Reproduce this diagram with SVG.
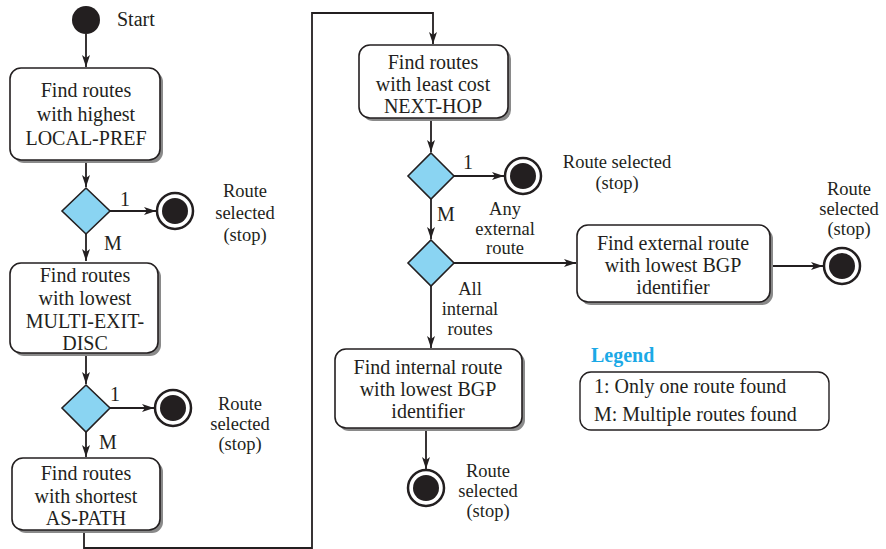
<svg xmlns="http://www.w3.org/2000/svg" width="886" height="549" viewBox="0 0 886 549">
<defs>
<style>
.t{font-family:"Liberation Serif","Times New Roman",serif;font-size:20px;fill:#231f20;text-anchor:middle}
.s{font-family:"Liberation Serif","Times New Roman",serif;font-size:18.5px;fill:#231f20;text-anchor:middle}
.tl{font-family:"Liberation Serif","Times New Roman",serif;font-size:20px;fill:#231f20}
.box{fill:#fff;stroke:#231f20;stroke-width:1.6}
.sh{fill:#8a8a8a}
.dia{fill:#8ad4f2;stroke:#231f20;stroke-width:1.6}
.ln{fill:none;stroke:#231f20;stroke-width:1.8}
.ring{fill:#fff;stroke:#231f20;stroke-width:2.5}
.dot{fill:#231f20}
.leg{font-family:"Liberation Serif","Times New Roman",serif;font-size:20px;font-weight:bold;fill:#1ba9e6}
</style>
<marker id="ah" viewBox="0 0 12 8" refX="12" refY="4" markerWidth="12" markerHeight="8" markerUnits="userSpaceOnUse" orient="auto">
<path d="M0,0 L12,4 L0,8 L3,4 Z" fill="#231f20"/>
</marker>
</defs>

<g id="connectors">
<line class="ln" x1="86" y1="34" x2="86" y2="67" marker-end="url(#ah)"/>
<line class="ln" x1="86" y1="160" x2="86" y2="187" marker-end="url(#ah)"/>
<line class="ln" x1="110" y1="211" x2="156" y2="211" marker-end="url(#ah)"/>
<line class="ln" x1="86" y1="234" x2="86" y2="261" marker-end="url(#ah)"/>
<line class="ln" x1="86" y1="353" x2="86" y2="384" marker-end="url(#ah)"/>
<line class="ln" x1="110" y1="408" x2="154" y2="408" marker-end="url(#ah)"/>
<line class="ln" x1="86" y1="432" x2="86" y2="457" marker-end="url(#ah)"/>
<path class="ln" d="M84,531 V548 H312 V13 H433 V44" marker-end="url(#ah)"/>
<line class="ln" x1="431" y1="119" x2="431" y2="152" marker-end="url(#ah)"/>
<line class="ln" x1="454" y1="176" x2="504" y2="176" marker-end="url(#ah)"/>
<line class="ln" x1="431" y1="199" x2="431" y2="239" marker-end="url(#ah)"/>
<line class="ln" x1="454" y1="263" x2="576" y2="263" marker-end="url(#ah)"/>
<line class="ln" x1="771" y1="266" x2="823" y2="266" marker-end="url(#ah)"/>
<line class="ln" x1="431" y1="286" x2="431" y2="348" marker-end="url(#ah)"/>
<line class="ln" x1="426" y1="429" x2="426" y2="469" marker-end="url(#ah)"/>
</g>

<g id="start">
<circle class="dot" cx="86" cy="20" r="14"/>
<text class="tl" x="117" y="26">Start</text>
</g>

<g id="box1">
<rect class="sh" x="13" y="71" width="150" height="92" rx="11"/>
<rect class="box" x="10" y="68" width="150" height="92" rx="11"/>
<text class="t" x="86" y="97">Find routes</text>
<text class="t" x="86" y="121">with highest</text>
<text class="t" x="86" y="145">LOCAL-PREF</text>
</g>

<g id="dec1">
<polygon class="dia" points="86,188 110,211 86,234 62,211"/>
<text class="tl" x="120" y="206">1</text>
<text class="tl" x="104" y="250">M</text>
</g>

<g id="stop1">
<circle class="ring" cx="175" cy="211" r="18"/>
<circle class="dot" cx="175" cy="211" r="13"/>
<text class="s" x="245" y="197">Route</text>
<text class="s" x="245" y="219">selected</text>
<text class="s" x="245" y="241">(stop)</text>
</g>

<g id="box2">
<rect class="sh" x="13" y="266" width="148" height="90" rx="11"/>
<rect class="box" x="10" y="263" width="148" height="90" rx="11"/>
<text class="t" x="85" y="282">Find routes</text>
<text class="t" x="85" y="305">with lowest</text>
<text class="t" x="85" y="328">MULTI-EXIT-</text>
<text class="t" x="85" y="350">DISC</text>
</g>

<g id="dec2">
<polygon class="dia" points="86,385 110,408 86,432 62,408"/>
<text class="tl" x="110" y="401">1</text>
<text class="tl" x="99" y="449">M</text>
</g>

<g id="stop2">
<circle class="ring" cx="173" cy="408" r="18"/>
<circle class="dot" cx="173" cy="408" r="13"/>
<text class="s" x="240" y="410">Route</text>
<text class="s" x="240" y="430">selected</text>
<text class="s" x="240" y="450">(stop)</text>
</g>

<g id="box3">
<rect class="sh" x="15" y="461" width="148" height="72" rx="11"/>
<rect class="box" x="12" y="458" width="148" height="72" rx="11"/>
<text class="t" x="86" y="480">Find routes</text>
<text class="t" x="86" y="503">with shortest</text>
<text class="t" x="86" y="525">AS-PATH</text>
</g>

<g id="box4">
<rect class="sh" x="362" y="48" width="149" height="73" rx="11"/>
<rect class="box" x="359" y="45" width="149" height="73" rx="11"/>
<text class="t" x="433" y="69">Find routes</text>
<text class="t" x="433" y="91">with least cost</text>
<text class="t" x="433" y="113">NEXT-HOP</text>
</g>

<g id="dec3">
<polygon class="dia" points="431,153 454,176 431,199 408,176"/>
<text class="tl" x="463" y="169">1</text>
<text class="tl" x="437" y="221">M</text>
</g>

<g id="stop3">
<circle class="ring" cx="523" cy="176" r="18"/>
<circle class="dot" cx="523" cy="176" r="13"/>
<text class="s" x="617" y="168">Route selected</text>
<text class="s" x="617" y="189">(stop)</text>
</g>

<g id="dec4">
<polygon class="dia" points="431,240 454,263 431,286 408,263"/>
<text class="s" x="505" y="215">Any</text>
<text class="s" x="505" y="235">external</text>
<text class="s" x="505" y="254">route</text>
<text class="s" x="470" y="295">All</text>
<text class="s" x="470" y="315">internal</text>
<text class="s" x="470" y="335">routes</text>
</g>

<g id="box5">
<rect class="sh" x="580" y="228" width="193" height="77" rx="11"/>
<rect class="box" x="577" y="225" width="193" height="77" rx="11"/>
<text class="t" x="673" y="250">Find external route</text>
<text class="t" x="673" y="272">with lowest BGP</text>
<text class="t" x="673" y="294">identifier</text>
</g>

<g id="stop4">
<circle class="ring" cx="842" cy="266" r="18"/>
<circle class="dot" cx="842" cy="266" r="13"/>
<text class="s" x="849" y="195">Route</text>
<text class="s" x="849" y="215">selected</text>
<text class="s" x="849" y="235">(stop)</text>
</g>

<g id="box6">
<rect class="sh" x="338" y="352" width="187" height="79" rx="11"/>
<rect class="box" x="335" y="349" width="187" height="79" rx="11"/>
<text class="t" x="428" y="374">Find internal route</text>
<text class="t" x="428" y="396">with lowest BGP</text>
<text class="t" x="428" y="418">identifier</text>
</g>

<g id="stop5">
<circle class="ring" cx="426" cy="488" r="18"/>
<circle class="dot" cx="426" cy="488" r="13"/>
<text class="s" x="488" y="477">Route</text>
<text class="s" x="488" y="497">selected</text>
<text class="s" x="488" y="517">(stop)</text>
</g>

<g id="legend">
<text class="leg" x="591" y="362">Legend</text>
<rect x="580" y="372" width="249" height="58" rx="11" fill="#fff" stroke="#231f20" stroke-width="1.4"/>
<text class="tl" x="594" y="393">1: Only one route found</text>
<text class="tl" x="594" y="421">M: Multiple routes found</text>
</g>
</svg>
